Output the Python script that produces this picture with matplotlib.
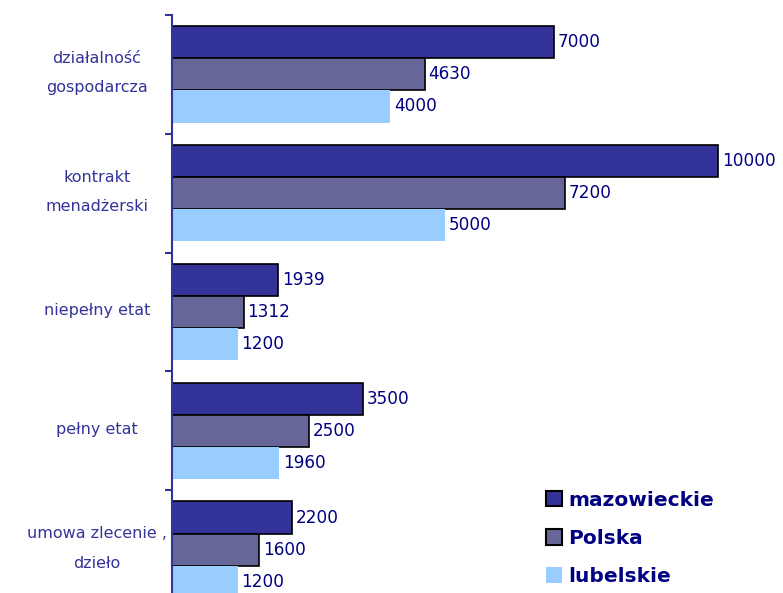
import matplotlib.pyplot as plt
import matplotlib.transforms as mtransforms
import numpy as np
from matplotlib.patches import Patch

categories = ['działalność\ngospodarcza', 'kontrakt\nmenadżerski', 'niepełny etat',
              'pełny etat', 'umowa zlecenie ,\ndzieło']
series = ['mazowieckie', 'Polska', 'lubelskie']
mazowieckie = [7000, 10000, 1939, 3500, 2200]
polska = [4630, 7200, 1312, 2500, 1600]
lubelskie = [4000, 5000, 1200, 1960, 1200]

colors = ['#333399', '#666699', '#99ccff']
edges = ['black', 'black', 'none']


def main():
    plt.rcParams['font.family'] = ['DejaVu Sans']
    fig = plt.figure(figsize=(7.83, 5.93), dpi=100)
    ax = fig.add_axes([172 / 783, -16 / 593, 611 / 783, 594 / 593])

    y = np.arange(len(categories))
    h = 0.27
    data = [mazowieckie, polska, lubelskie]
    for i, vals in enumerate(data):
        pos = y + (i - 1) * h
        ax.barh(pos, vals, height=h, color=colors[i], edgecolor=edges[i],
                linewidth=1.2)
        for p, v in zip(pos, vals):
            ax.text(v + 70, p, str(v), va='center', ha='left',
                    fontsize=12.2, color='#000080')

    ax.set_ylim(len(categories) - 0.5, -0.5)
    ax.set_xlim(0, 611 / 546 * 10000)
    ax.set_yticks(np.arange(len(categories) + 1) - 0.5)
    ax.set_yticklabels([])
    ax.tick_params(axis='y', which='major', length=5, width=1.5,
                   color='#333399', direction='out')
    trans = mtransforms.blended_transform_factory(ax.transAxes, ax.transData)
    for yy, lab in zip(y, categories):
        ax.text(-75 / 611, yy - 0.01, lab, transform=trans, ha='center',
                va='center', fontsize=11.5, color='#333399', linespacing=2.2)
    ax.set_xticks([])
    for s in ['top', 'right', 'bottom']:
        ax.spines[s].set_visible(False)
    ax.spines['left'].set_color('#333399')
    ax.spines['left'].set_linewidth(1.5)

    handles = [Patch(facecolor=colors[i], edgecolor=edges[i], linewidth=1.5)
               for i in range(3)]
    fig.legend(handles, series, loc='lower left',
               bbox_to_anchor=(546 / 783, 7 / 593), frameon=False,
               prop={'weight': 'bold', 'size': 14.5}, labelcolor='#000080',
               handlelength=0.8, handleheight=0.8, handletextpad=0.3,
               labelspacing=0.95, borderpad=0, borderaxespad=0)

    fig.savefig('out.png', dpi=100)


if __name__ == "__main__":
    main()
